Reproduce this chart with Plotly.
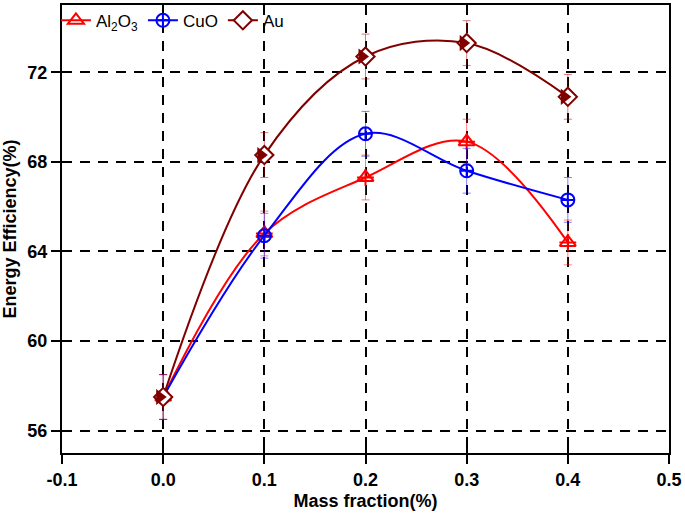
import plotly.graph_objects as go

mass_fraction = [0.0, 0.1, 0.2, 0.3, 0.4]
al2o3 = [57.5, 64.8, 67.3, 68.9, 64.4]
cuo = [57.5, 64.7, 69.25, 67.6, 66.3]
au = [57.5, 68.3, 72.7, 73.3, 70.9]
err = [1.0, 1.0, 1.0, 1.0, 1.0]

x_ticks = [-0.1, 0.0, 0.1, 0.2, 0.3, 0.4, 0.5]
x_ticktext = ["-0.1", "0.0", "0.1", "0.2", "0.3", "0.4", "0.5"]
y_ticks = [56, 60, 64, 68, 72]

RED, BLUE, DRED = "#FF0000", "#0000FF", "#800000"

fig = go.Figure()
# Al2O3
fig.add_trace(go.Scatter(
    x=mass_fraction, y=al2o3, name="Al<sub>2</sub>O<sub>3</sub>", mode="lines+markers",
    line=dict(color=RED, width=2, shape="spline", smoothing=1.0),
    marker=dict(symbol="triangle-up-open", size=14, color=RED, line=dict(color=RED, width=2)),
    error_y=dict(type="data", array=err, visible=True, color="rgba(255,0,0,0.5)", thickness=1, width=4),
))
fig.add_trace(go.Scatter(
    x=mass_fraction, y=al2o3, mode="markers", showlegend=False, hoverinfo="skip",
    marker=dict(symbol="cross-thin-open", size=12, color=RED, line=dict(color=RED, width=2)),
))
# CuO
fig.add_trace(go.Scatter(
    x=mass_fraction, y=cuo, name="CuO", mode="lines+markers",
    line=dict(color=BLUE, width=2, shape="spline", smoothing=1.0),
    marker=dict(symbol="circle-cross-open", size=13, color=BLUE, line=dict(color=BLUE, width=2)),
    error_y=dict(type="data", array=err, visible=True, color="rgba(0,0,255,0.5)", thickness=1, width=4),
))
# Au
fig.add_trace(go.Scatter(
    x=mass_fraction, y=au, name="Au", mode="lines+markers",
    line=dict(color=DRED, width=2, shape="spline", smoothing=1.0),
    marker=dict(symbol="diamond", size=14, color="white", line=dict(color=DRED, width=2)),
    error_y=dict(type="data", array=err, visible=True, color="rgba(170,0,0,0.5)", thickness=1, width=4),
))
fig.add_trace(go.Scatter(
    x=mass_fraction, y=au, mode="markers", showlegend=False, hoverinfo="skip",
    marker=dict(symbol="triangle-up", size=14, angle=90, standoff=3.5, color=DRED,
                line=dict(width=0)),
))

# dummy trace for overlay axes (crossing ticks)
fig.add_trace(go.Scatter(x=[None], y=[None], xaxis="x2", yaxis="y2", showlegend=False, hoverinfo="skip"))

ff = "Liberation Sans, Arial, sans-serif"
grid = dict(showgrid=True, gridcolor="black", gridwidth=2, griddash="10px,8px", zeroline=False)
fig.update_layout(
    width=685, height=515,
    margin=dict(l=62, r=14, t=3, b=62),
    plot_bgcolor="white", paper_bgcolor="white",
    font=dict(family=ff, color="black"),
    showlegend=True,
    legend=dict(orientation="h", x=-0.01, y=1.005, xanchor="left", yanchor="top",
                bgcolor="rgba(0,0,0,0)", font=dict(size=17, family=ff),
                itemwidth=30, tracegroupgap=0),
    xaxis=dict(range=[-0.1, 0.5], tickvals=x_ticks, ticktext=x_ticktext,
               ticks="outside", ticklen=9, tickwidth=1.5, tickcolor="black",
               showline=True, linecolor="black", linewidth=2, mirror=True, **grid,
               tickfont=dict(size=18, family=ff, weight="bold"),
               title=dict(text="<b>Mass fraction(%)</b>", font=dict(size=18), standoff=6)),
    yaxis=dict(range=[55, 75], tickvals=y_ticks,
               ticks="outside", ticklen=9, tickwidth=1.5, tickcolor="black",
               showline=True, linecolor="black", linewidth=2, mirror=True, **grid,
               tickfont=dict(size=18, family=ff, weight="bold"),
               title=dict(text="<b>Energy Efficiency(%)</b>", font=dict(size=18), standoff=6)),
    xaxis2=dict(range=[-0.1, 0.5], tickvals=x_ticks, overlaying="x", side="bottom", anchor="y2",
                ticks="inside", ticklen=9, tickwidth=1.5, tickcolor="black",
                showticklabels=False, showgrid=False, zeroline=False, showline=False),
    yaxis2=dict(range=[55, 75], tickvals=y_ticks, overlaying="y", side="left", anchor="x2",
                ticks="inside", ticklen=9, tickwidth=1.5, tickcolor="black",
                showticklabels=False, showgrid=False, zeroline=False, showline=False),
)

fig.write_html("out.html", config={"displayModeBar": False},
               post_script="document.body.style.margin='0px';")
